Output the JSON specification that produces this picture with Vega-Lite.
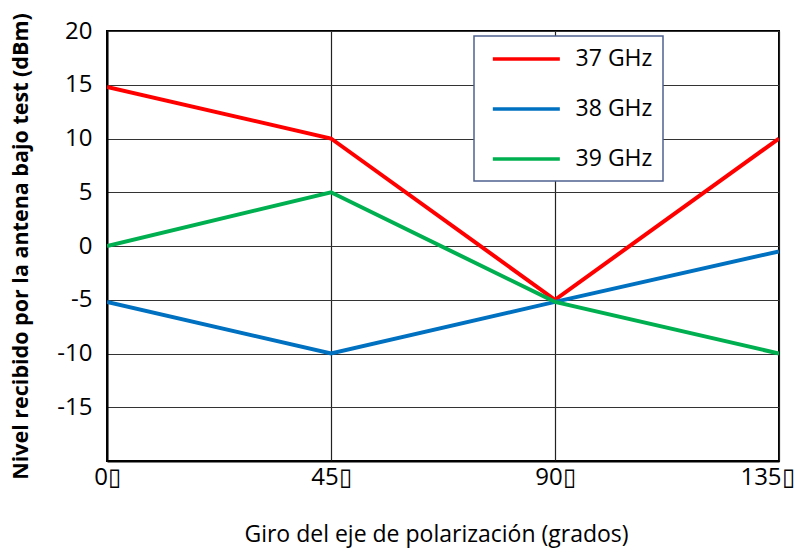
{
  "$schema": "https://vega.github.io/schema/vega-lite/v6.json",
  "autosize": "none",
  "width": 672,
  "height": 430,
  "padding": {"left": 107, "top": 31, "right": 19, "bottom": 90},
  "background": "white",
  "title": {
    "text": "Figura 6",
    "font": "Open Sans",
    "fontSize": 24,
    "fontWeight": "bold",
    "color": "black",
    "baseline": "alphabetic",
    "frame": "group",
    "offset": 8,
    "anchor": "middle"
  },
  "config": {
    "view": {"stroke": "black", "strokeWidth": 2},
    "font": "Open Sans"
  },
  "data": {
    "values": [
      {"giro": 0, "nivel": 14.8, "frecuencia": "37 GHz"},
      {"giro": 45, "nivel": 10, "frecuencia": "37 GHz"},
      {"giro": 90, "nivel": -5, "frecuencia": "37 GHz"},
      {"giro": 135, "nivel": 10, "frecuencia": "37 GHz"},
      {"giro": 0, "nivel": -5.2, "frecuencia": "38 GHz"},
      {"giro": 45, "nivel": -10, "frecuencia": "38 GHz"},
      {"giro": 90, "nivel": -5.2, "frecuencia": "38 GHz"},
      {"giro": 135, "nivel": -0.5, "frecuencia": "38 GHz"},
      {"giro": 0, "nivel": 0, "frecuencia": "39 GHz"},
      {"giro": 45, "nivel": 5, "frecuencia": "39 GHz"},
      {"giro": 90, "nivel": -5.2, "frecuencia": "39 GHz"},
      {"giro": 135, "nivel": -10, "frecuencia": "39 GHz"}
    ]
  },
  "mark": {"type": "line", "strokeWidth": 4, "clip": true},
  "encoding": {
    "x": {
      "field": "giro",
      "type": "quantitative",
      "scale": {"domain": [0, 135], "nice": false, "zero": false},
      "axis": {
        "title": "Giro del eje de polarización (grados)",
        "titleFont": "Open Sans",
        "titleFontSize": 23,
        "titleFontWeight": "normal",
        "titleColor": "black",
        "titlePadding": 34,
        "titleX": 329,
        "values": [0, 45, 90, 135],
        "labelExpr": "datum.value + '\u25af'",
        "labelFont": "Open Sans",
        "labelFontSize": 24,
        "labelColor": "black",
        "labelPadding": 4,
        "labelFlush": false,
        "labelOverlap": false,
        "labelOffset": {"condition": {"test": "datum.value == 135", "value": -12}, "value": 0},
        "ticks": false,
        "domainColor": "black",
        "domainWidth": 2,
        "grid": true,
        "gridColor": "#222222",
        "gridWidth": 1.2
      }
    },
    "y": {
      "field": "nivel",
      "type": "quantitative",
      "scale": {"domain": [-20, 20], "nice": false, "zero": false},
      "axis": {
        "title": "Nivel recibido por la antena bajo test (dBm)",
        "titleFont": "Open Sans",
        "titleFontSize": 21.5,
        "titleFontWeight": "bold",
        "titleColor": "black",
        "titlePadding": 24,
        "values": [-20, -15, -10, -5, 0, 5, 10, 15, 20],
        "labelExpr": "datum.value == -20 ? '' : '' + datum.value",
        "labelFont": "Open Sans",
        "labelFontSize": 24,
        "labelColor": "black",
        "labelPadding": 15,
        "labelFlush": false,
        "ticks": false,
        "domainColor": "black",
        "domainWidth": 2,
        "grid": true,
        "gridColor": "#333333",
        "gridWidth": 1.2
      }
    },
    "color": {
      "field": "frecuencia",
      "type": "nominal",
      "scale": {
        "domain": ["37 GHz", "38 GHz", "39 GHz"],
        "range": ["#ff0000", "#0070c0", "#00b050"]
      },
      "legend": {
        "title": null,
        "orient": "none",
        "legendX": 367,
        "legendY": 5,
        "direction": "vertical",
        "fillColor": "white",
        "strokeColor": "#4f6390",
        "padding": 10,
        "rowPadding": 25,
        "symbolType": "M-0.374,0H5.62",
        "symbolSize": 500,
        "symbolStrokeWidth": 3.5,
        "labelFont": "Open Sans",
        "labelFontSize": 23,
        "labelColor": "black",
        "labelOffset": 65.6,
        "labelLimit": 200,
        "encode": {
          "legend": {"update": {"strokeWidth": {"value": 1.5}}}
        }
      }
    }
  }
}
